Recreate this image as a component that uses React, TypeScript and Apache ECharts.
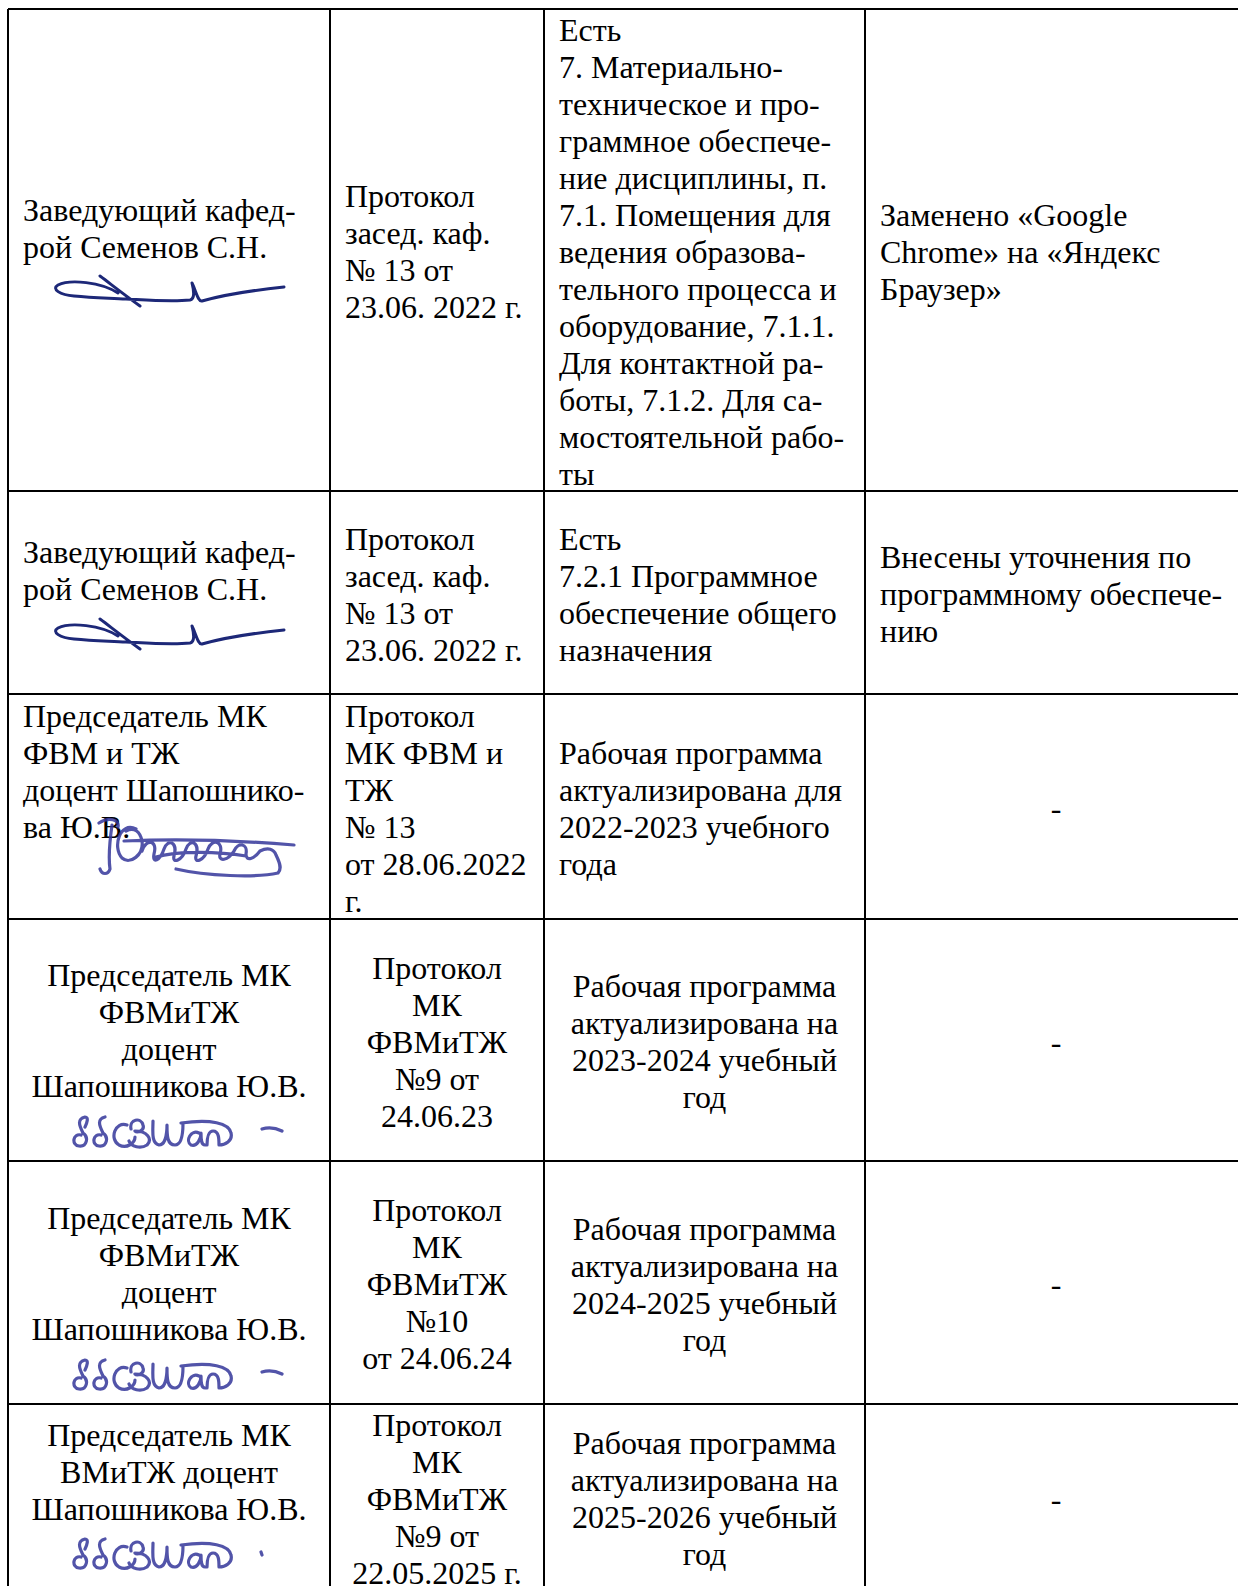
import React, { useEffect, useRef } from "react";
import * as echarts from "echarts";

// ---------- table content ----------
const row1 = [
  ["Заведующий кафед-", "рой Семенов С.Н."],
  ["Протокол", "засед. каф.", "№ 13 от", "23.06. 2022 г."],
  ["Есть", "7. Материально-", "техническое и про-", "граммное обеспече-", "ние дисциплины, п.", "7.1. Помещения для", "ведения образова-", "тельного процесса и", "оборудование, 7.1.1.", "Для контактной ра-", "боты, 7.1.2. Для са-", "мостоятельной рабо-", "ты"],
  ["Заменено «Google", "Chrome» на «Яндекс", "Браузер»"],
];
const row2 = [
  ["Заведующий кафед-", "рой Семенов С.Н."],
  ["Протокол", "засед. каф.", "№ 13 от", "23.06. 2022 г."],
  ["Есть", "7.2.1 Программное", "обеспечение общего", "назначения"],
  ["Внесены уточнения по", "программному обеспече-", "нию"],
];
const row3 = [
  ["Председатель МК", "ФВМ и ТЖ", "доцент Шапошнико-", "ва Ю.В."],
  ["Протокол", "МК ФВМ и", "ТЖ", "№ 13", "от 28.06.2022", "г."],
  ["Рабочая программа", "актуализирована для", "2022-2023 учебного", "года"],
  ["-"],
];
const row4 = [
  ["Председатель МК", "ФВМиТЖ", "доцент", "Шапошникова Ю.В."],
  ["Протокол", "МК", "ФВМиТЖ", "№9 от", "24.06.23"],
  ["Рабочая программа", "актуализирована на", "2023-2024 учебный", "год"],
  ["-"],
];
const row5 = [
  ["Председатель МК", "ФВМиТЖ", "доцент", "Шапошникова Ю.В."],
  ["Протокол", "МК", "ФВМиТЖ", "№10", "от 24.06.24"],
  ["Рабочая программа", "актуализирована на", "2024-2025 учебный", "год"],
  ["-"],
];
const row6 = [
  ["Председатель МК", "ВМиТЖ доцент", "Шапошникова Ю.В."],
  ["Протокол", "МК", "ФВМиТЖ", "№9 от", "22.05.2025 г."],
  ["Рабочая программа", "актуализирована на", "2025-2026 учебный", "год"],
  ["-"],
];
const tableRows = [row1, row2, row3, row4, row5, row6];
const signatureKinds = ["sigA", "sigA", "sigB", "sigC", "sigC", "sigD"];

// ---------- layout ----------
const COLS = [8, 330, 544, 865, 1247];
const ROWS = [9, 491, 694, 919, 1161, 1404, 1598];
const CENTERED_ROWS = [false, false, false, true, true, true];
const LH = 37;
const PAD = 15;
const FONT = 32;
const col1Layout = [
  { shift: -21.5, sigDy: 42, sigX: 56 },
  { shift: -22, sigDy: 43, sigX: 56 },
  { shift: -35, sigDy: 20, sigX: 96 },
  { shift: -9.5, sigDy: 45, sigX: 71 },
  { shift: -9, sigDy: 45, sigX: 71 },
  { shift: -29, sigDy: 44, sigX: 71 },
];
const otherShift = [1.5, 1.5, 1.5, 1.5, 1.5, -2.5];

const SIG_A =
  "M 62 4 C 45 -7 14 -10 2 -4 C -5 0 4 6 18 7 C 38 9 55 9 70 10 C 90 11 115 13 134 11 C 139 10 138 2 136 -6 C 140 2 142 13 146 12 C 160 8 190 2 228 -2 M 44 -13 C 56 -4 66 4 84 17";
const SIG_B =
  "M 3 -24 C 12 -30 24 -28 22 -20 M 16 -22 C 14 -8 12 8 14 22 C 12 28 6 28 4 22 M 40 -18 C 24 -26 16 0 26 11 C 34 18 48 8 46 -6 C 44 -16 38 -20 30 -16 M 46 4 C 50 -9 62 -7 58 7 C 56 17 64 14 68 2 C 72 -9 82 -5 78 9 C 76 17 86 14 90 2 C 94 -9 104 -5 100 9 C 98 17 108 14 112 2 C 116 -9 128 -6 124 7 C 122 15 132 14 138 4 C 142 -5 152 -4 150 7 C 150 15 158 12 164 4 M 28 -6 C 90 -9 150 -6 198 -2 M 164 4 C 172 0 178 2 180 8 C 184 16 186 22 182 26 C 160 31 110 29 80 22 M 60 10 C 80 4 120 4 150 9";
const SIG_C_BASE =
  "M 10 4 C 2 2 0 14 8 15 C 16 16 18 6 12 2 C 8 -6 6 -12 14 -14 C 18 -14 16 -8 14 -4 M 30 4 C 22 2 20 14 28 15 C 36 16 38 6 32 2 C 28 -6 26 -12 34 -14 M 56 -6 C 44 -10 38 8 48 14 C 56 18 64 12 64 6 M 60 -2 C 58 -12 70 -14 72 -6 C 74 0 66 2 64 0 C 76 0 82 8 76 14 C 70 18 60 16 58 10 M 82 -10 C 82 0 80 12 88 14 C 94 14 96 4 96 -6 C 96 4 96 14 104 14 C 110 14 112 4 112 -8 M 128 2 C 120 -2 114 10 120 14 C 126 16 130 8 130 2 C 130 8 130 14 134 14 M 136 14 C 136 6 138 0 142 0 C 148 0 148 8 148 14 C 154 14 162 10 160 2 C 158 -8 140 -12 110 -8";
const SIG_C = SIG_C_BASE + " M 191 -2 C 197 -4 205 -3 211 0";
const SIG_D = SIG_C_BASE + " M 190 -1 L 191 2";

let registered = false;
function registerShapes() {
  if (registered) return;
  registered = true;
  const g: any = (echarts as any).graphic;
  g.registerShape("sigA", g.extendPath(SIG_A, {}));
  g.registerShape("sigB", g.extendPath(SIG_B, {}));
  g.registerShape("sigC", g.extendPath(SIG_C, {}));
  g.registerShape("sigD", g.extendPath(SIG_D, {}));
}

function buildElements() {
  const els: any[] = [];
  const right = 1238;
  ROWS.forEach((y) => {
    els.push({ type: "line", shape: { x1: COLS[0], y1: y, x2: right, y2: y }, style: { stroke: "#000", lineWidth: 2 } });
  });
  COLS.slice(0, 4).forEach((x) => {
    els.push({ type: "line", shape: { x1: x, y1: ROWS[0], x2: x, y2: ROWS[ROWS.length - 1] }, style: { stroke: "#000", lineWidth: 2 } });
  });

  const textEl = (t: string, x: number, y: number, align: string) => ({
    type: "text",
    x,
    y,
    style: {
      text: t,
      fill: "#000",
      fontSize: FONT,
      fontFamily: "'Liberation Serif', 'Times New Roman', serif",
      align,
      textAlign: align,
      verticalAlign: "middle",
      textVerticalAlign: "middle",
    },
  });

  tableRows.forEach((cells, r) => {
    const top = ROWS[r];
    const bottom = ROWS[r + 1];
    const cy = (top + bottom) / 2;
    const centered = CENTERED_ROWS[r];
    cells.forEach((lines, c) => {
      const left = COLS[c];
      const rgt = COLS[c + 1];
      const isDash = lines.length === 1 && lines[0] === "-";
      const align = centered || isDash ? "center" : "left";
      const x = align === "center" ? (left + rgt) / 2 : left + PAD;
      const n = lines.length;
      const shift = c === 0 ? col1Layout[r].shift : otherShift[r];
      const y0 = cy - ((n - 1) * LH) / 2 + shift;
      lines.forEach((t, i) => els.push(textEl(t, x, y0 + i * LH, align)));
      if (c === 0) {
        const sy = y0 + (n - 1) * LH + col1Layout[r].sigDy;
        const kind = signatureKinds[r];
        els.push({
          type: kind,
          x: col1Layout[r].sigX,
          y: sy,
          z: 10,
          style: {
            fill: "none",
            stroke: kind === "sigA" ? "#1d2878" : "#34369a",
            lineWidth: kind === "sigA" ? 3 : 3.2,
            opacity: kind === "sigA" ? 1 : 0.85,
            lineCap: "round",
            lineJoin: "round",
          },
        });
      }
    });
  });
  return els;
}

export default function App() {
  const ref = useRef<HTMLDivElement>(null);
  useEffect(() => {
    document.body.style.margin = "0";
    registerShapes();
    const chart = echarts.init(ref.current as HTMLDivElement, undefined, { renderer: "svg" });
    chart.setOption({
      animation: false,
      backgroundColor: "#ffffff",
      graphic: { elements: buildElements() },
    });
    return () => chart.dispose();
  }, []);
  return <div ref={ref} style={{ width: 1238, height: 1586 }} />;
}
